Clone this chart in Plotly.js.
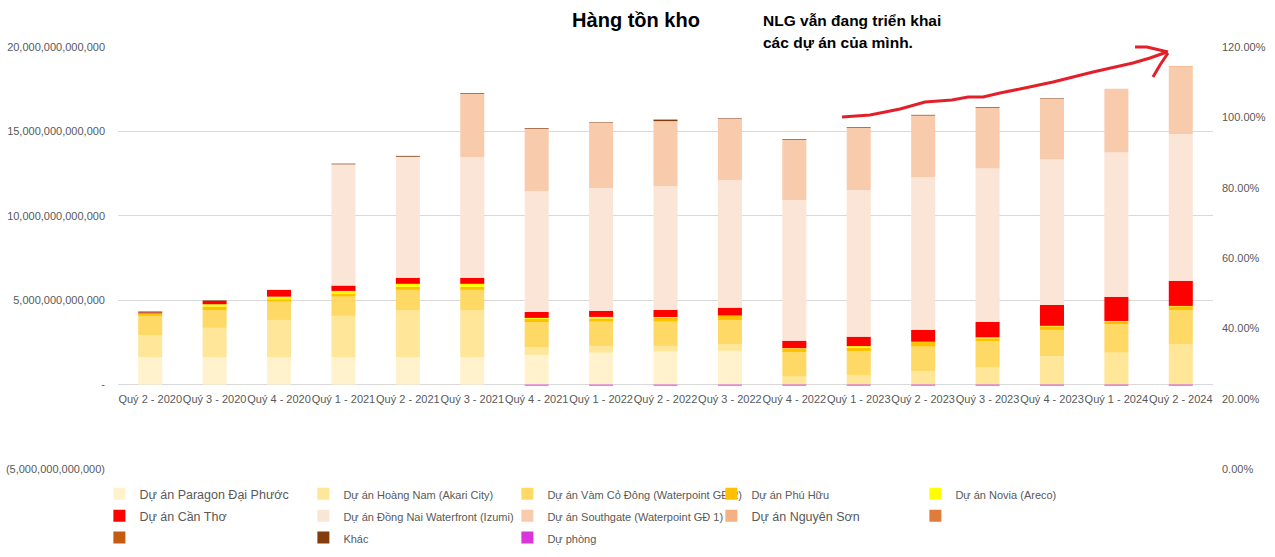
<!DOCTYPE html>
<html>
<head>
<meta charset="utf-8">
<script src="https://cdn.plot.ly/plotly-3.0.1.min.js"></script>
<style>html,body{margin:0;padding:0;background:#fff}#chart{width:1275px;height:557px}</style>
</head>
<body>
<div id="chart"></div>
<script>
// Values in nghìn tỷ VND (1 unit = 1,000,000,000,000 VND)
var quarters = ['Quý 2 - 2020','Quý 3 - 2020','Quý 4 - 2020','Quý 1 - 2021','Quý 2 - 2021','Quý 3 - 2021','Quý 4 - 2021','Quý 1 - 2022','Quý 2 - 2022','Quý 3 - 2022','Quý 4 - 2022','Quý 1 - 2023','Quý 2 - 2023','Quý 3 - 2023','Quý 4 - 2023','Quý 1 - 2024','Quý 2 - 2024'];
var paragon   = [1.62,1.62,1.62,1.62,1.62,1.62,1.76,1.89,1.95,2.00,0,0,0,0,0,0,0];
var hoangNam  = [1.30,1.74,2.21,2.45,2.80,2.80,0.45,0.40,0.34,0.40,0.47,0.57,0.79,1.03,1.68,1.89,2.40];
var vamCoDong = [1.15,1.06,1.09,1.14,1.19,1.19,1.48,1.44,1.44,1.43,1.45,1.41,1.46,1.54,1.56,1.70,2.02];
var phuHuu    = [0.15,0.20,0.14,0.16,0.18,0.18,0.20,0.18,0.22,0.24,0.22,0.20,0.27,0.17,0.21,0.16,0.22];
var novia     = [0,0.14,0.15,0.18,0.18,0.18,0.06,0.10,0.05,0.02,0.02,0.10,0.02,0.06,0.03,0.02,0.02];
var canTho    = [0.05,0.20,0.40,0.32,0.35,0.35,0.35,0.36,0.42,0.47,0.44,0.56,0.70,0.91,1.24,1.43,1.49];
var dongNai   = [0,0,0,7.18,7.18,7.15,7.15,7.28,7.33,7.54,8.33,8.67,9.04,9.09,8.61,8.55,8.69];
var southgate = [0,0,0,0,0,3.76,3.70,3.86,3.86,3.65,3.58,3.70,3.66,3.60,3.61,3.78,3.98];
var nguyenSon = [0,0,0,0,0,0,0,0,0,0,0,0,0,0,0,0,0.05];
var other1    = [0,0,0,0,0,0,0,0,0,0,0,0,0,0,0,0,0];
var other2    = [0,0,0,0,0,0,0,0,0,0,0,0,0,0,0,0,0];
var khac      = [0.06,0.03,0,0.04,0.05,0.04,0.04,0.03,0.09,0.03,0.04,0.04,0.04,0.04,0.03,0,0];
var duPhong   = [0,0,0,0,0,0,-0.06,-0.06,-0.06,-0.06,-0.06,-0.06,-0.06,-0.06,-0.06,-0.06,-0.06];

var leftTickVals = [-5,0,5,10,15,20];
var leftTickText = ['(5,000,000,000,000)','-','5,000,000,000,000','10,000,000,000,000','15,000,000,000,000','20,000,000,000,000'];
var rightTickVals = [0,0.2,0.4,0.6,0.8,1.0,1.2];

var big = function(s){ return '<span style="font-size:12.5px">' + s + '</span>'; };
var sml = function(s){ return '<span style="font-size:11px">' + s + '</span>'; };
var series = [
  {name: big('Dự án Paragon Đại Phước'), y: paragon, color: '#FFF2CC'},
  {name: sml('Dự án Hoàng Nam (Akari City)'), y: hoangNam, color: '#FFE699'},
  {name: sml('Dự án Vàm Cỏ Đông (Waterpoint GĐ 2)'), y: vamCoDong, color: '#FFD966'},
  {name: sml('Dự án Phú Hữu'), y: phuHuu, color: '#FFC000'},
  {name: sml('Dự án Novia (Areco)'), y: novia, color: '#FFFF00'},
  {name: big('Dự án Cần Thơ'), y: canTho, color: '#FF0000'},
  {name: sml('Dự án Đồng Nai Waterfront (Izumi)'), y: dongNai, color: '#FBE5D6'},
  {name: sml('Dự án Southgate (Waterpoint GĐ 1)'), y: southgate, color: '#F8CBAD'},
  {name: big('Dự án Nguyên Sơn'), y: nguyenSon, color: '#F4B183'},
  {name: ' ', y: other1, color: '#E07B39'},
  {name: '  ', y: other2, color: '#C55A11'},
  {name: sml('Khác'), y: khac, color: '#843C0C'},
  {name: sml('Dự phòng'), y: duPhong, color: '#D935D9'}
];

var traces = series.map(function(s){
  return {type:'bar', x: quarters, y: s.y, name: s.name, marker:{color: s.color, line:{width:0}}, hoverinfo:'x+y+name'};
});
traces.push({type:'scatter', x:[quarters[0]], y:[null], yaxis:'y2', showlegend:false, hoverinfo:'skip'});

// plot area in pixels: x 118..1213, y 47..469
var L = 118, R = 1213, T = 47, B = 469;
function px(x){ return (x - L) / (R - L); }
function py(y){ return (B - y) / (B - T); }
function path(pts){
  return pts.map(function(p,i){ return (i ? 'L' : 'M') + px(p[0]).toFixed(4) + ',' + py(p[1]).toFixed(4); }).join(' ');
}
var arrowCurve = [[842,117],[870,115],[900,109],[925,102],[952,100],[968,97],[983,97],[1000,93],[1020,89],[1053,82],[1093,72],[1133,63],[1150,58],[1167,52]];
var arrowTop = [[1135,47],[1147,47],[1168,52]];
var arrowLow = [[1168,53],[1160,65],[1153,77]];

var layout = {
  width: 1275, height: 557,
  margin: {l: L, r: 1275 - R, t: T, b: 557 - B, pad: 0, autoexpand: false},
  paper_bgcolor: '#fff', plot_bgcolor: '#fff',
  font: {family: '"Liberation Sans", Arial, sans-serif', size: 11, color: '#595959'},
  barmode: 'relative',
  bargap: 0.627,
  showlegend: true,
  title: {text: '<b>Hàng tồn kho</b>', x: 636/1275, xanchor: 'center', xref: 'container', y: 1 - 20/557, yanchor: 'middle', yref: 'container',
          font: {size: 20, color: '#000', family: '"Liberation Sans", Arial, sans-serif'}},
  xaxis: {type: 'category', range: [-0.5, 16.5], autorange: false, anchor: 'free', position: 0.2, tickangle: 0, showgrid: false, showline: false, ticks: '', ticklabelstandoff: 6, tickfont: {size: 11, color: '#595959'}, automargin: false, fixedrange: true},
  yaxis: {range: [-5, 20], tickvals: leftTickVals, ticktext: leftTickText, showgrid: true, gridcolor: '#D9D9D9', gridwidth: 1, zeroline: false, showline: false, ticks: '', ticklabelstandoff: 12, automargin: false, fixedrange: true},
  yaxis2: {overlaying: 'y', side: 'right', anchor: 'x', range: [0, 1.2], tickvals: rightTickVals, tickformat: '.2%', showgrid: false, zeroline: false, showline: false, ticks: '', ticklabelstandoff: 8, automargin: false, fixedrange: true},
  legend: {orientation: 'h', x: -0.017, xanchor: 'left', y: -0.021, yanchor: 'top', traceorder: 'normal', entrywidth: 159, entrywidthmode: 'pixels', font: {size: 14.5, color: '#595959'}, itemclick: false, itemdoubleclick: false},
  annotations: [
    {xref: 'paper', yref: 'paper', x: px(761), y: py(20), xanchor: 'left', yanchor: 'middle', showarrow: false, text: '<b>NLG vẫn đang triển khai</b>', font: {size: 15.5, color: '#000', family: '"Liberation Sans", Arial, sans-serif'}},
    {xref: 'paper', yref: 'paper', x: px(761), y: py(42), xanchor: 'left', yanchor: 'middle', showarrow: false, text: '<b>các dự án của mình.</b>', font: {size: 15.5, color: '#000', family: '"Liberation Sans", Arial, sans-serif'}}
  ],
  shapes: [
    {type: 'path', xref: 'paper', yref: 'paper', path: path(arrowCurve), line: {color: '#E3202A', width: 3}},
    {type: 'path', xref: 'paper', yref: 'paper', path: path(arrowTop), line: {color: '#E3202A', width: 3}},
    {type: 'path', xref: 'paper', yref: 'paper', path: path(arrowLow), line: {color: '#E3202A', width: 3}}
  ]
};

Plotly.newPlot('chart', traces, layout, {displayModeBar: false, staticPlot: true});
</script>
</body>
</html>
